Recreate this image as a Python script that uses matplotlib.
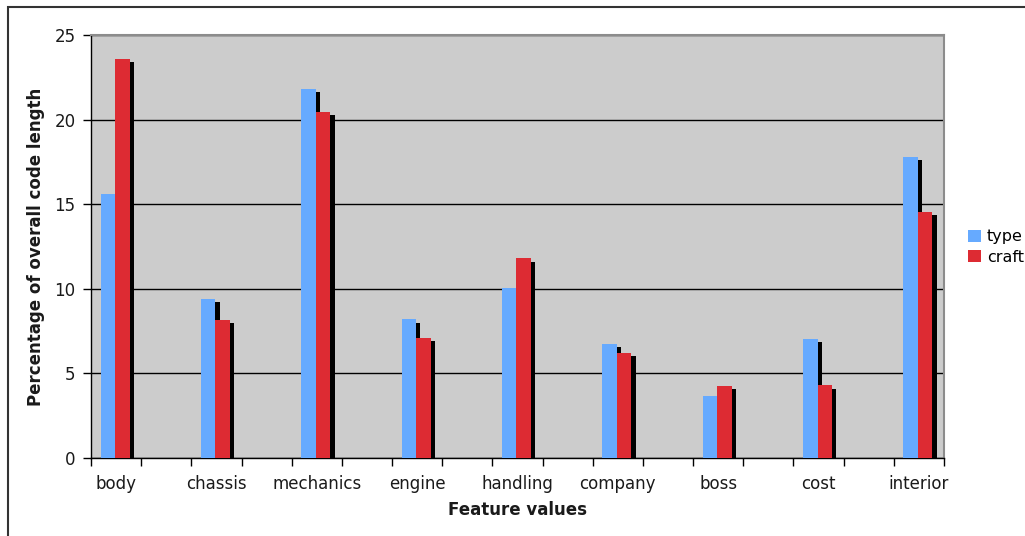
import matplotlib.pyplot as plt
import matplotlib.transforms as mtransforms
from matplotlib.patches import Rectangle
import numpy as np

categories = ["body", "chassis", "mechanics", "engine", "handling", "company", "boss", "cost", "interior"]
type_vals = [15.6, 9.4, 21.8, 8.2, 10.05, 6.75, 3.65, 7.03, 17.8]
craft_vals = [23.6, 8.15, 20.45, 7.1, 11.8, 6.2, 4.25, 4.3, 14.55]

blue = '#66aaff'
red = '#dd2b33'
text_col = '#1a1a1a'

fig = plt.figure(figsize=(10.25, 5.36), dpi=100)
ax = fig.add_axes([91 / 1025, 1 - 458 / 536, 853 / 1025, 423 / 536])
ax.set_facecolor('#cccccc')

# categories sit on every other slot (Excel-style spacing)
x = np.arange(len(categories)) * 2
bar_width = 0.29

# shadow offset: a few pixels right and down
shadow = ax.transData + mtransforms.ScaledTranslation(4.3 / 100, -3.3 / 100, fig.dpi_scale_trans)

ax.bar(x - 0.165, type_vals, bar_width, color='black', transform=shadow, zorder=2)
ax.bar(x - 0.165, type_vals, bar_width, color=blue, label='type', zorder=3)
ax.bar(x + 0.125, craft_vals, bar_width, color='black', transform=shadow, zorder=4)
ax.bar(x + 0.125, craft_vals, bar_width, color=red, label='craft', zorder=5)

ax.set_xlim(-0.5, 16.5)
ax.set_ylim(0, 25)
ax.set_yticks([0, 5, 10, 15, 20, 25])
ax.yaxis.grid(True, color='black', linewidth=1)
ax.set_axisbelow(True)

ax.set_xticks(x)
ax.set_xticklabels(categories)
ax.set_xticks(np.arange(-0.5, 17, 1), minor=True)
ax.tick_params(axis='x', which='major', length=0, pad=12, labelsize=12, labelcolor=text_col)
ax.tick_params(axis='x', which='minor', length=6, width=1, direction='out')
ax.tick_params(axis='y', length=6, width=1, direction='out', pad=5, labelsize=12, labelcolor=text_col)

for side in ['top', 'right']:
    ax.spines[side].set_color('#8c8c8c')
    ax.spines[side].set_linewidth(1.5)
for side in ['left', 'bottom']:
    ax.spines[side].set_color('black')
    ax.spines[side].set_linewidth(1)

ax.set_ylabel('Percentage of overall code length', fontsize=12, fontweight='bold', color=text_col, labelpad=7)
ax.set_xlabel('Feature values', fontsize=12, fontweight='bold', color=text_col, labelpad=6)

fig.legend(loc='center left', bbox_to_anchor=(962 / 1025, 1 - 247 / 536), frameon=False,
           fontsize=11.5, handlelength=0.8, handleheight=0.8, handletextpad=0.35,
           labelspacing=0.35, borderaxespad=0)

# outer chart border
fig.patches.append(Rectangle((8 / 1025, -0.1), 1.2, 1 - 7 / 536 + 0.1, transform=fig.transFigure,
                             fill=False, edgecolor='#333333', linewidth=1.5))

plt.savefig('out.png', dpi=100)
